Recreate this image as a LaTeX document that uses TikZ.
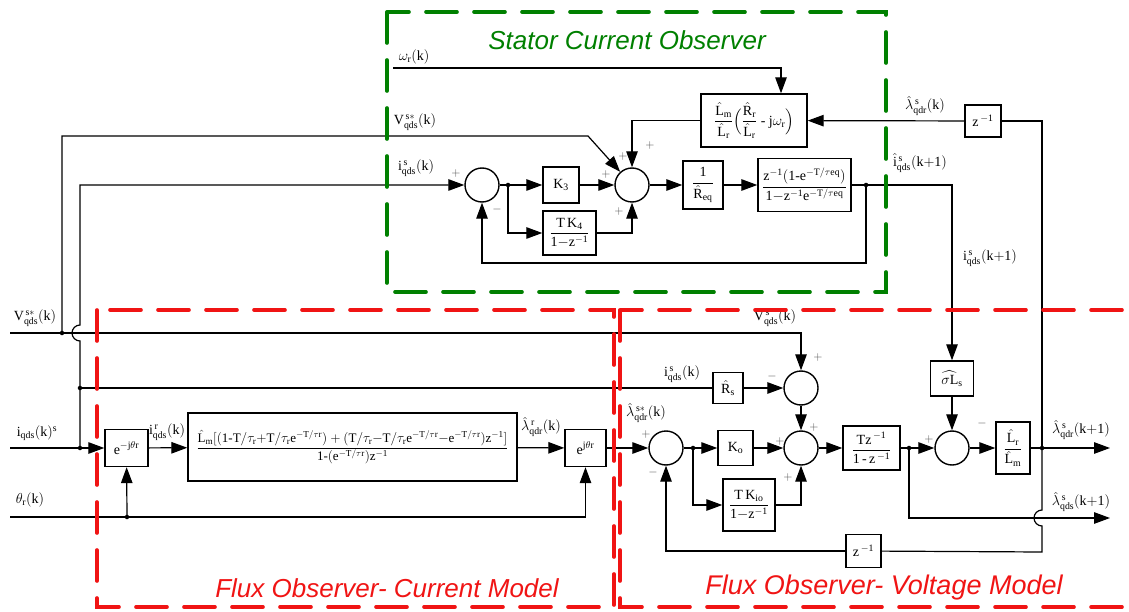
\documentclass[tikz,border=0pt]{standalone}
\usepackage{fontspec}
\setmainfont{Liberation Serif}
\setsansfont{Liberation Sans}
\usepackage{amsmath}
\usepackage{graphicx}
\definecolor{ObsGreen}{RGB}{0,128,0}
\definecolor{ObsRed}{RGB}{240,20,20}
\usetikzlibrary{arrows.meta, positioning, calc}
\newcommand{\blab}[1]{\ensuremath{\mathrm{#1}}}
\newcommand{\hh}[1]{{\fam=-1\relax\hat{\mathrm{#1}}}}

\begin{document}
\begin{tikzpicture}[x=1pt, y=-1pt, font=\fontsize{14}{16}\selectfont,
    sig/.style={line width=1.2pt},
    arr/.style={sig, -{Triangle[length=16pt, width=11.5pt]}},
    blk/.style={draw, line width=1.4pt, inner sep=1pt, align=center},
    sumc/.style={draw, circle, line width=1.4pt, minimum size=34pt, inner sep=0pt},
    dot/.style={circle, fill, inner sep=1.6pt},
    sgn/.style={font=\fontsize{13}{14}\selectfont, text=black!70},
    obs/.style={line width=3.6pt, dash pattern=on 31pt off 17pt, line cap=round},
    ttl/.style={font=\fontsize{26}{30}\selectfont\sffamily\itshape}]
  \useasboundingbox (0,0) rectangle (1129,612);
  \clip (0,0) rectangle (1129,612);

  % stator current observer
  \node[sumc] (s1) at (482,185) {};
  \node[sumc] (s2) at (632,185) {};
  \node[blk, minimum width=36pt, minimum height=36pt] (k3) at (561,185) {\blab{K_3}};
  \node[blk, minimum width=53pt, minimum height=44pt] (tk4) at (569.5,233)
       {\blab{\dfrac{T\,K_4}{1{-}z^{-1}}}};
  \node[blk, minimum width=40pt, minimum height=48pt] (req) at (703,185)
       {\blab{\dfrac{1}{\hh{R}_{eq}}}};
  \node[blk, minimum width=93pt, minimum height=53pt] (ztf) at (804.5,185)
       {\blab{\dfrac{z^{-1}(1\text{-}e^{-T/\tau eq})}{1{-}z^{-1}e^{-T/\tau eq}}}};
  \node[blk, minimum width=106pt, minimum height=53pt] (lmb) at (754,120.5)
       {\blab{\dfrac{\hh{L}_m}{\hh{L}_r}\Bigl(\dfrac{\hh{R}_r}{\hh{L}_r}\text{ - }j\omega_r\Bigr)}};
  \node[blk, minimum width=36pt, minimum height=32pt] (zd1) at (983,121) {\blab{z^{\,-1}}};

  % voltage model
  \node[blk, minimum width=43pt, minimum height=35pt] (sls) at (952,378.5) {\blab{\widehat{\sigma L}_s}};
  \node[sumc] (s3) at (952,448) {};
  \node[blk, minimum width=34pt, minimum height=52pt] (lrm) at (1013,448)
       {\blab{\dfrac{\hh{L}_r}{\hh{L}_m}}};
  \node[blk, minimum width=57pt, minimum height=44pt] (tzb) at (871.5,448)
       {\blab{\dfrac{Tz^{\,-1}}{1\,\text{-}\,z^{\,-1}}}};
  \node[sumc] (sa) at (666,448) {};
  \node[sumc] (sb) at (801,448) {};
  \node[sumc] (sc) at (801,388) {};
  \node[blk, minimum width=35pt, minimum height=35pt] (kob) at (735.5,448) {\blab{K_o}};
  \node[blk, minimum width=52pt, minimum height=52pt] (tki) at (749,505)
       {\blab{\dfrac{T\,K_{io}}{1{-}z^{-1}}}};
  \node[blk, minimum width=30pt, minimum height=31pt] (rsb) at (728,388) {\blab{\hh{R}_s}};
  \node[blk, minimum width=35pt, minimum height=33pt] (zd2) at (863.5,551) {\blab{z^{\,-1}}};

  % current model
  \node[blk, minimum width=43pt, minimum height=37pt] (rot1) at (126.5,448) {\blab{e^{-j\theta r}}};
  \node[blk, minimum width=329pt, minimum height=68pt] (cmb) at (352.5,447)
       {\scalebox{0.93}{\blab{\dfrac{\hh{L}_m[(1\text{-}T/\tau_r{+}T/\tau_r e^{-T/\tau r})+(T/\tau_r{-}T/\tau_r e^{-T/\tau r}{-}e^{-T/\tau r})z^{-1}]}{1\text{-}(e^{-T/\tau r})z^{-1}}}}};
  \node[blk, minimum width=41pt, minimum height=37pt] (rot2) at (585.5,448) {\blab{e^{j\theta r}}};

  \coordinate (j1) at (508,185);
  \coordinate (j2) at (866,185);
  \coordinate (ja) at (693,448);
  \coordinate (jt) at (909,448);
  \coordinate (jl) at (1042,448);
  \coordinate (jv) at (62,333);
  \coordinate (jr) at (80,388);
  \coordinate (ji) at (80,448);
  \coordinate (jth) at (127,517);
  \coordinate (vin) at (10,333);
  \coordinate (iin) at (10,448);
  \coordinate (thin) at (10,517);
  \coordinate (win) at (393,68);
  \coordinate (out1) at (1110,448);
  \coordinate (out2) at (1110,518);

  % connectors, top loop
  \draw[arr] (win) -| ($(lmb.north)+(27,0)$);
  \draw[arr] (jv) -- (62,136) -- (588,136) -- (s2);
  \draw[arr] (ji) -- (80,341) arc[start angle=270, end angle=90, radius=8pt] -- (80,185) -- (s1);
  \draw[sig] (s1) -- (j1);
  \draw[arr] (j1) -- (k3);
  \draw[arr] (j1) |- (tk4);
  \draw[arr] (k3) -- (s2);
  \draw[arr] (tk4) -| (s2);
  \draw[arr] (lmb) -| (s2);
  \draw[arr] (s2) -- (req);
  \draw[arr] (req) -- (ztf);
  \draw[arr] (ztf) -- (j2) -| (sls);
  \draw[arr] (j2) -- (866,263) -| (s1);
  \draw[sig] (jl) |- (zd1);
  \draw[arr] (zd1) -- (lmb);

  % connectors, flux observers
  \draw[arr] (sls) -- (s3);
  \draw[arr] (s3) -- (lrm);
  \draw[sig] (lrm) -- (jl);
  \draw[arr] (jl) -- (out1);
  \draw[sig] (jl) -- (1042,510) arc[start angle=90, end angle=270, radius=8pt] -- (1042,552) -- (zd2);
  \draw[arr] (zd2) -| (sa);
  \draw[arr] (rot2) -- (sa);
  \draw[sig] (sa) -- (ja);
  \draw[arr] (ja) -- (kob);
  \draw[arr] (ja) |- (tki);
  \draw[arr] (kob) -- (sb);
  \draw[arr] (tki) -| (sb);
  \draw[arr] (sc) -- (sb);
  \draw[arr] (sb) -- (tzb);
  \draw[sig] (tzb) -- (jt);
  \draw[arr] (jt) -- (s3);
  \draw[arr] (jt) |- (out2);
  \draw[arr] (vin) -- (801,333) -- (sc);
  \draw[sig] (jr) -- (rsb);
  \draw[arr] (rsb) -- (sc);
  \draw[arr] (iin) -- (rot1);
  \draw[arr] (rot1) -- (cmb);
  \draw[arr] (cmb) -- (rot2);
  \draw[arr] (thin) -| (rot2);
  \draw[arr] (jth) -- (rot1);

  \foreach \p in {j1, j2, ja, jt, jl, jv, jr, ji, jth}
    \node[dot] at (\p) {};

  % signal labels
  \node (lw) at (414,57) {\blab{\omega_r(k)}};
  \node (lv1) at (415,122) {\blab{V^{\,s*}_{qds}(k)}};
  \node (li1) at (416,168) {\blab{i^{\,s}_{qds}(k)}};
  \node (llam1) at (925,106) {\blab{\hh{\lambda}^{\,s}_{qdr}(k)}};
  \node (lih) at (920,163) {\blab{\hh{i}^{\,s}_{qds}(k{+}1)}};
  \node (li2) at (990,258) {\blab{i^{\,s}_{qds}(k{+}1)}};
  \node (lv2) at (775,318) {\blab{V^{\,s}_{qds}(k)}};
  \node (li3) at (682,374) {\blab{i^{\,s}_{qds}(k)}};
  \node (llam2) at (646,413) {\blab{\hh{\lambda}^{\,s*}_{qdr}(k)}};
  \node (llam3) at (1081,430) {\blab{\hh{\lambda}^{\,s}_{qdr}(k{+}1)}};
  \node (llam4) at (1081,502) {\blab{\hh{\lambda}^{\,s}_{qds}(k{+}1)}};
  \node (lv3) at (35,318) {\blab{V^{\,s*}_{qds}(k)}};
  \node (li4) at (37,433) {\blab{i_{qds}(k)^{s}}};
  \node (lth) at (30,500) {\blab{\theta_r(k)}};
  \node (li5) at (167,432) {\blab{i^{\,r}_{qds}(k)}};
  \node (llam5) at (541,427) {\blab{\hh{\lambda}^{\,r}_{qdr}(k)}};

  % signs at the summing points
  \foreach \x/\y/\s [count=\n] in {456/174/+, 497/210/-, 606/175/+, 619/212/+, 623/157/+,
      650/146/+, 929/439/+, 982/423/-, 646/434/+, 653/472/-, 780/441/+, 814/427/+,
      788/477/+, 818/357/+, 772/376/-}
    \node[sgn] (sg\n) at (\x,\y) {$\s$};

  % observer frames
  \draw[obs, ObsGreen] (387,12) rectangle (886,292);
  \draw[obs, ObsRed] (97,310) rectangle (614,607);
  \draw[obs, ObsRed] (620,310) rectangle (1150,607);
  \node[ttl, text=ObsGreen] (tso) at (627,40) {Stator Current Observer};
  \node[ttl, text=ObsRed] (tcm) at (387,588) {Flux Observer- Current Model};
  \node[ttl, text=ObsRed, font=\fontsize{27}{30}\selectfont\sffamily\itshape] (tvm) at (884,588) {Flux Observer- Voltage Model};
\end{tikzpicture}
\end{document}
